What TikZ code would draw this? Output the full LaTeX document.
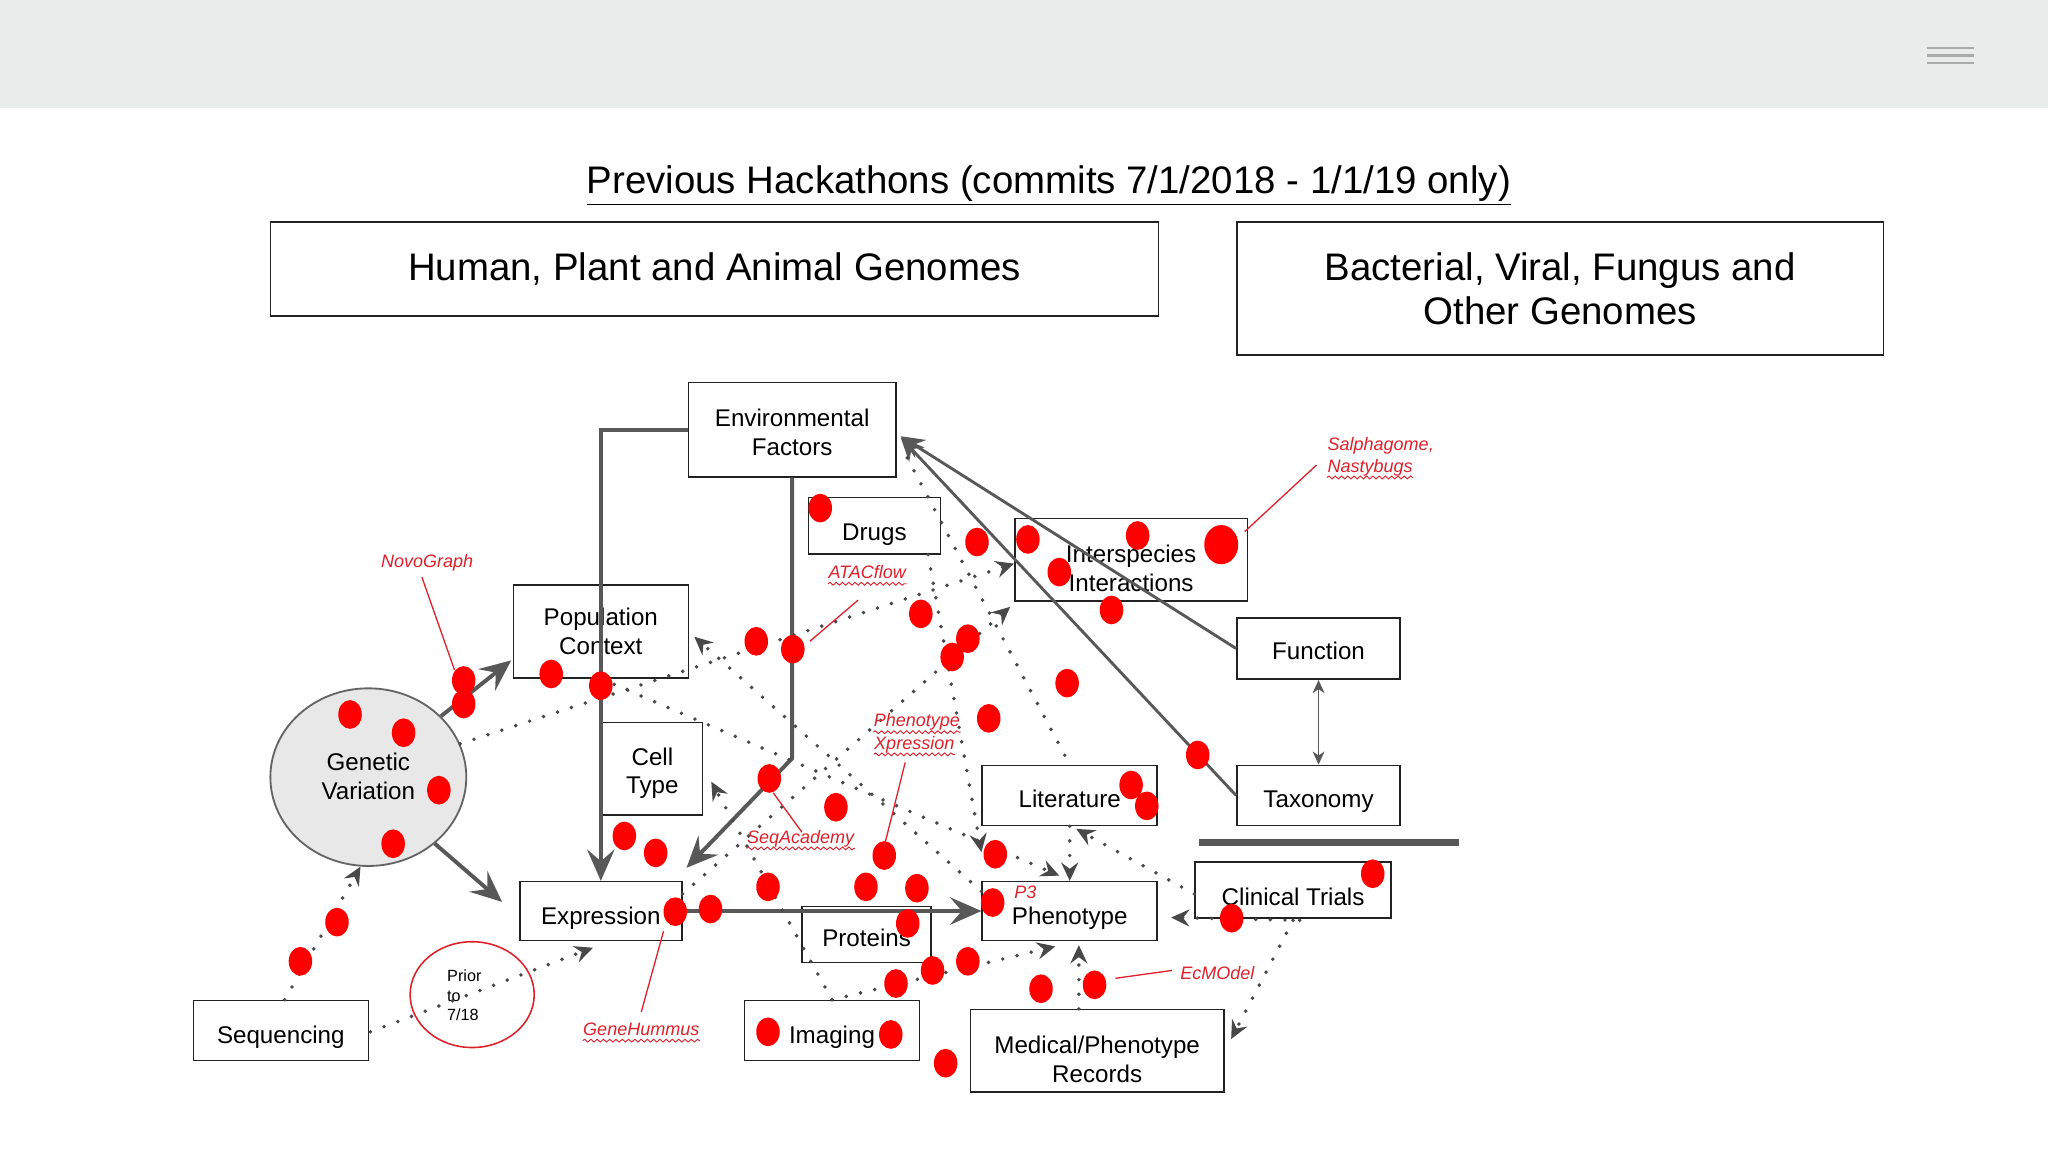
\documentclass[tikz,border=0pt]{standalone}
\usepackage{fontspec}
\setmainfont{Liberation Sans}
\usetikzlibrary{arrows.meta,shapes.geometric,calc,decorations.pathmorphing}
\definecolor{barc}{RGB}{233,236,235}
\definecolor{hambc}{RGB}{170,170,170}
\definecolor{boxc}{RGB}{34,34,34}
\definecolor{linec}{RGB}{88,88,88}
\definecolor{dotc}{RGB}{72,72,72}
\definecolor{dotred}{RGB}{255,0,0}
\definecolor{labred}{RGB}{222,34,44}
\definecolor{gvfill}{RGB}{232,232,232}
\definecolor{gvline}{RGB}{100,100,100}
\newcommand\myNodeFont{\fontsize{9.25pt}{11pt}\selectfont}
\newcommand\myHeadFont{\fontsize{14.7pt}{17pt}\selectfont}
\newcommand\myLabFont{\fontsize{6.9pt}{8.5pt}\selectfont\itshape}
\newcommand\mySmallFont{\fontsize{6.2pt}{7.5pt}\selectfont}
\newcommand\tb[2][2.3pt]{\raisebox{-#1}[\height][\depth]{\begin{tabular}{@{}c@{}}#2\end{tabular}}}
\begin{document}
\begin{tikzpicture}[x=0.5pt,y=-0.5pt,
  box/.style={rectangle, draw=boxc, line width=0.6pt, inner sep=0pt, align=center, font=\myNodeFont, text=black},
  thickarrow/.style={draw=linec, line width=1.5pt, -{Stealth[length=12pt,width=10.5pt,inset=4.5pt]}},
  medarrow/.style={draw=linec, line width=1.1pt, -{Stealth[length=9pt,width=8pt,inset=3pt]}},
  dotline/.style={draw=dotc, line width=1.5pt, line cap=round, dash pattern=on 0pt off 5.6pt},
  dotarrow/.style={dotline, -{Stealth[length=7pt,width=6.5pt,inset=2.4pt]}},
  lab/.style={font=\myLabFont, text=labred, inner sep=0pt},
  leader/.style={draw=labred, line width=0.5pt},
  wavy/.style={draw=labred, line width=0.35pt, decorate, decoration={snake, amplitude=0.55pt, segment length=2.4pt}},
  hamb/.style={draw=hambc, line width=0.8pt}
]
\useasboundingbox (0,0) rectangle (1568,882);
\fill[white] (0,0) rectangle (1568,882);
\fill[barc] (0,0) rectangle (1568,83);
\draw[hamb] (1475,37) -- (1511,37);
\draw[hamb] (1475,42.5) -- (1511,42.5);
\draw[hamb] (1475,48) -- (1511,48);

% title and headings
\node[font=\myHeadFont, inner sep=0pt, anchor=base] (title) at (803,148) {\underline{Previous Hackathons (commits 7/1/2018 - 1/1/19 only)}};
\node[box, minimum width=340pt, minimum height=36pt, font=\myHeadFont] (hpa) at (547,206) {Human, Plant and Animal Genomes};
\node[box, minimum width=247.5pt, minimum height=51pt, font=\myHeadFont] (bvf) at (1194.5,221) {Bacterial, Viral, Fungus and\\Other Genomes};

% nodes
\node[box, minimum width=79.5pt, minimum height=36pt] (env) at (606.5,329) {\tb[2.1pt]{Environmental\\Factors}};
\node[box, minimum width=50.5pt, minimum height=21.5pt] (drugs) at (669.5,402.5) {\tb[3.5pt]{Drugs}};
\node[box, minimum width=89pt, minimum height=31.5pt] (inter) at (866,428.5) {\tb[4.3pt]{Interspecies\\Interactions}};
\node[box, minimum width=62.5pt, minimum height=23.5pt] (func) at (1009.5,496.5) {\tb[2.2pt]{Function}};
\node[box, minimum width=62.5pt, minimum height=23pt] (tax) at (1009.5,609) {\tb[2.6pt]{Taxonomy}};
\node[box, minimum width=67pt, minimum height=35.5pt] (pop) at (460,483.5) {\tb[1pt]{Population\\Context}};
\node[box, minimum width=38.5pt, minimum height=35.5pt] (cell) at (499.5,588.5) {\tb[2pt]{Cell\\Type}};
\node[box, minimum width=67pt, minimum height=23pt] (lit) at (819,609) {\tb[2.6pt]{Literature}};
\node[box, minimum width=62pt, minimum height=22.5pt] (expr) at (460,697.5) {\tb[2.8pt]{Expression}};
\node[box, minimum width=49.5pt, minimum height=21.5pt] (prot) at (663.5,715.5) {\tb[2.5pt]{Proteins}};
\node[box, minimum width=67pt, minimum height=22.5pt] (pheno) at (819,697.5) {\tb[2.8pt]{Phenotype}};
\node[box, minimum width=75pt, minimum height=21.5pt] (clin) at (990,681.5) {\tb[3.8pt]{Clinical Trials}};
\node[box, minimum width=97pt, minimum height=31.5pt] (med) at (840,804.5) {\tb[4.3pt]{Medical/Phenotype\\Records}};
\node[box, minimum width=67pt, minimum height=23pt] (img) at (637,789) {\tb[2.8pt]{Imaging}};
\node[box, minimum width=67pt, minimum height=23pt] (seq) at (215,789) {\tb[2.8pt]{Sequencing}};
\node[ellipse, draw=gvline, fill=gvfill, line width=0.7pt, minimum width=75pt, minimum height=68pt, inner sep=0pt, align=center, font=\myNodeFont] (gv) at (282,595) {\tb[0.8pt]{Genetic\\Variation}};
\node[ellipse, draw=labred, line width=0.6pt, minimum width=47.5pt, minimum height=40.5pt, inner sep=0pt] (prior) at (361.5,761.5) {};
\node[font=\mySmallFont, align=left, anchor=west, inner sep=0pt] (priortxt) at (342,762) {Prior\\to\\7/18};

% separator
\draw[draw=linec, line width=2.8pt] (918,645) -- (1117,645);

% solid connectors
\draw[thickarrow] (env.west) -| (expr.north);
\draw[thickarrow] (env.south) -- ++(0,215) -- ($(expr.north east)+(3,-10)$);
\draw[thickarrow] (gv.40) -- ($(pop.south west)+(-1,-14)$);
\draw[thickarrow] (gv.-45) -- ($(expr.west)+(-13,-7)$);
\draw[thickarrow] (expr.east) -- (pheno.west);
\draw[medarrow] (func.west) -- ($(env.east)+(3,5)$);
\draw[medarrow] (tax.west) -- ($(env.east)+(3,6)$);
\draw[draw=linec, line width=0.6pt, {Stealth[length=5pt,width=4.5pt,inset=1.5pt]}-{Stealth[length=5pt,width=4.5pt,inset=1.5pt]}] (func.south) -- (tax.north);

% dotted connectors
\draw[dotarrow] ($(seq.north)+(3,0)$) -- (gv.265);
\draw[dotarrow] ($(seq.east)+(1,1)$) -- ($(expr.south)+(-6,5)$);
\draw[dotarrow] (gv.20) -- ($(inter.west)+(0,3)$);
\draw[dotarrow] ($(pheno.north west)+(0,8)$) -- ($(pop.east)+(4,4)$);
\draw[dotarrow] (pop.south) -- ($(pheno.north)+(-8,-4)$);
\draw[dotarrow] ($(expr.north east)+(0,10)$) -- ($(inter.south west)+(-3,4)$);
\draw[dotline] ($(env.south east)+(8,-15)$) -- (lit.north);
\draw[dotarrow] ($(drugs.south east)+(-10,0)$) -- ($(pheno.north west)+(0,-22)$);
\draw[dotarrow] (lit.south) -- (pheno.north);
\draw[dotarrow] ($(clin.west)+(0,3)$) -- ($(lit.south)+(5,2)$);
\draw[dotarrow] ($(clin.south)+(5,1)$) -- ($(pheno.east)+(10,5)$);
\draw[dotarrow] ($(clin.south)+(0,1)$) -- ($(med.east)+(5,-9)$);
\draw[dotarrow] ($(med.north)+(-14,0)$) -- ($(pheno.south)+(7,3)$);
\draw[dotarrow] (img.north) -- ($(pheno.south)+(-11,4)$);
\draw[dotarrow] (img.north) -- ($(cell.east)+(6,10)$);

% red dots
\foreach \x/\y in {628/389, 748/415, 787/413, 871/410, 811/438, 851/467, 705/470, 741/489, 729/503, 579/491, 607/497, 817/523, 757/550, 422/516, 460/525, 355/521, 355/539, 268/547, 309/561, 336/605, 301/646, 258/706, 230/736, 589/596, 640/618, 478/640, 502/653, 677/655, 588/679, 663/679, 702/680, 517/698, 544/696, 695/707, 762/654, 760/691, 866/601, 878/617, 917/578, 1051/669, 943/703, 741/736, 714/743, 686/753, 797/757, 838/754, 588/790, 682/792, 724/814}
  \fill[dotred] (\x,\y) ellipse [x radius=4.5pt, y radius=5.5pt];
\fill[dotred] (935,417) ellipse [x radius=6.5pt, y radius=7.5pt];

% red labels
\node[lab] (novo) at (327,431) {NovoGraph};
\node[lab, anchor=west] (salA) at (1016,341) {Salphagome,};
\node[lab, anchor=west] (salB) at (1016,358) {Nastybugs};
\node[lab] (atac) at (664,438) {ATACflow};
\node[lab] (phA) at (702,553) {Phenotype};
\node[lab] (phB) at (700,570) {Xpression};
\node[lab] (seqa) at (613,642) {SeqAcademy};
\node[lab] (geneh) at (491,788) {GeneHummus};
\node[lab] (ecm) at (932,745) {EcMOdel};
\node[lab] (p3) at (785,683) {P3};

\coordinate (novoEnd) at (348,513);
\coordinate (salEnd) at (953,407);
\coordinate (atacEnd) at (620,491);
\coordinate (phxEnd) at (677,648);
\coordinate (seqaEnd) at (592,607);
\coordinate (genehEnd) at (508,713);
\coordinate (ecmEnd) at (854,749);
\draw[leader] ($(novo.south)+(-4,4)$) -- (novoEnd);
\draw[leader] ($(salB.west)+(-8,-2)$) -- (salEnd);
\draw[leader] ($(atac.south)+(-7,16)$) -- (atacEnd);
\draw[leader] ($(phB.south)+(-7,7)$) -- (phxEnd);
\draw[leader] ($(seqa.north)+(1,2)$) -- (seqaEnd);
\draw[leader] ($(geneh.north)+(0,-8)$) -- (genehEnd);
\draw[leader] ($(ecm.west)+(-6,-2)$) -- (ecmEnd);

\draw[wavy] ($(salB.base west)+(0,4)$) -- ($(salB.base east)+(0,4)$);
\draw[wavy] ($(atac.base west)+(0,4)$) -- ($(atac.base east)+(0,4)$);
\draw[wavy] ($(phA.base west)+(0,4)$) -- ($(phA.base east)+(0,4)$);
\draw[wavy] ($(phB.base west)+(0,4)$) -- ($(phB.base east)+(0,4)$);
\draw[wavy] ($(seqa.base west)+(0,4)$) -- ($(seqa.base east)+(0,4)$);
\draw[wavy] ($(geneh.base west)+(0,4)$) -- ($(geneh.base east)+(0,4)$);
\end{tikzpicture}
\end{document}
